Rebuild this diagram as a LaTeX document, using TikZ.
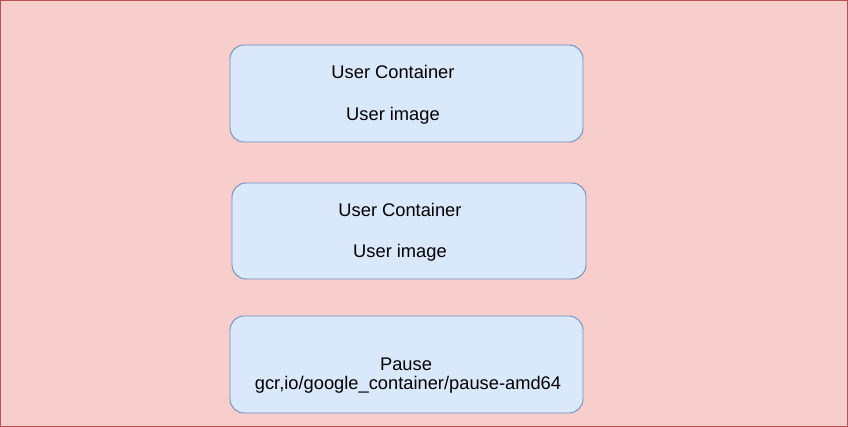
\documentclass[tikz,border=0pt]{standalone}
\usepackage{fontspec}
\setmainfont{Liberation Sans}
\definecolor{bgfill}{HTML}{F8CECC}
\definecolor{bgline}{HTML}{B85450}
\definecolor{boxfill}{HTML}{DAE8FC}
\definecolor{boxline}{HTML}{6C8EBF}
\begin{document}
\begin{tikzpicture}[x=1pt,y=-1pt,
  box/.style={draw=boxline,fill=boxfill,rounded corners=14pt,line width=0.9pt},
  lbl/.style={inner sep=0pt,font=\fontsize{18.3pt}{20pt}\selectfont,anchor=center}]
\useasboundingbox (0,0) rectangle (848,427);
\draw[draw=bgline,fill=bgfill,line width=1pt] (0.5,0.5) rectangle (847.5,426.5);
\draw[box] (230,45) rectangle (583,142);
\draw[box] (232,183) rectangle (586,279);
\draw[box] (230,316) rectangle (583,413);
\node[lbl] (c1) at (393,72) {User Container};
\node[lbl] (i1) at (393,115.5) {User image};
\node[lbl] (c2) at (400,210) {User Container};
\node[lbl] (i2) at (400,252.5) {User image};
\node[lbl] (p) at (406,364) {Pause};
\node[lbl] (g) at (408,384.5) {gcr,io/google\_container/pause-amd64};
\end{tikzpicture}
\end{document}
